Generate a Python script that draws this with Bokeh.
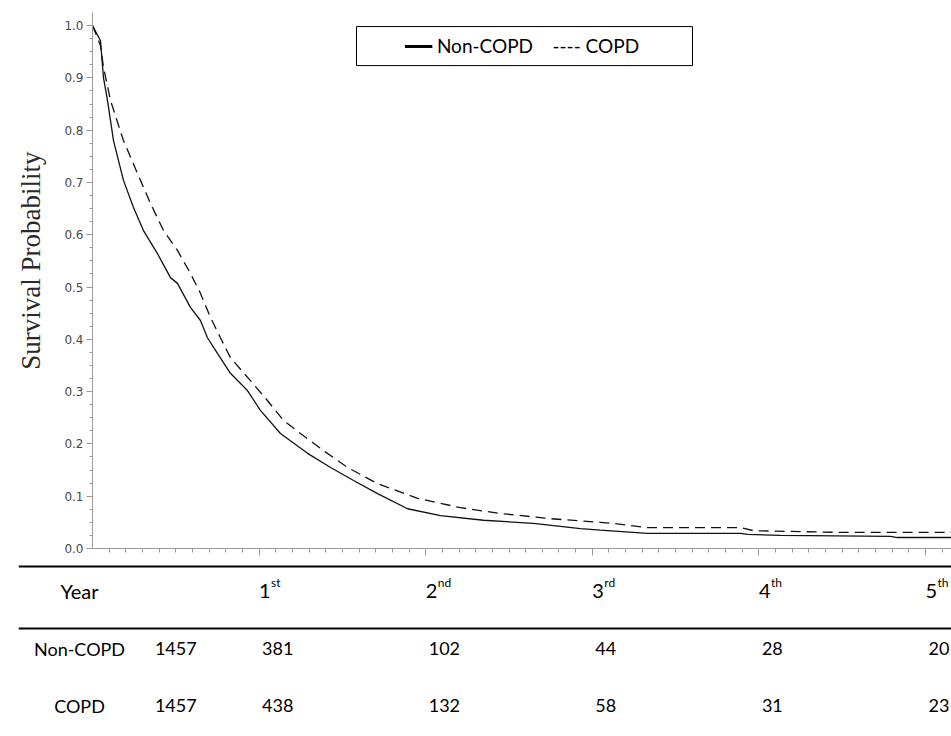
import math
from bokeh.plotting import figure
from bokeh.models import (Range1d, BoxAnnotation, Legend, LegendItem, Span,
                          FixedTicker, ColumnDataSource, NumeralTickFormatter)
from bokeh.layouts import column, row
from bokeh.embed import file_html
from bokeh.resources import INLINE
from bokeh.core.properties import value

# ---------------- data (time in years, survival probability) ----------------
non_copd_t = [0.0, 0.048, 0.066, 0.090, 0.126, 0.186, 0.246, 0.306, 0.390, 0.468,
              0.510, 0.588, 0.648, 0.690, 0.750, 0.828, 0.930, 1.008, 1.128, 1.291,
              1.429, 1.567, 1.711, 1.891, 2.089, 2.347, 2.647, 2.929, 3.049, 3.331,
              3.890, 3.932, 4.130, 4.790, 4.832, 5.156]
non_copd_s = [1.0, 0.971, 0.900, 0.857, 0.780, 0.704, 0.652, 0.608, 0.564, 0.518,
              0.507, 0.461, 0.436, 0.403, 0.373, 0.335, 0.302, 0.264, 0.220, 0.182,
              0.155, 0.130, 0.105, 0.076, 0.063, 0.054, 0.048, 0.038, 0.035, 0.029,
              0.029, 0.027, 0.025, 0.023, 0.021, 0.021]
copd_t = [0.0, 0.048, 0.066, 0.108, 0.186, 0.270, 0.348, 0.426, 0.510, 0.588,
          0.648, 0.666, 0.708, 0.768, 0.828, 0.948, 1.050, 1.146, 1.248, 1.387,
          1.531, 1.711, 1.951, 2.209, 2.449, 2.749, 3.049, 3.127, 3.331, 3.890,
          3.968, 4.448, 5.156]
copd_s = [1.0, 0.962, 0.920, 0.857, 0.780, 0.717, 0.660, 0.608, 0.570, 0.526,
          0.488, 0.474, 0.442, 0.403, 0.365, 0.321, 0.283, 0.245, 0.220, 0.187,
          0.155, 0.124, 0.096, 0.078, 0.067, 0.057, 0.050, 0.048, 0.040, 0.040,
          0.034, 0.031, 0.031]

y_ticks = [0.0, 0.1, 0.2, 0.3, 0.4, 0.5, 0.6, 0.7, 0.8, 0.9, 1.0]
year_ticks = [1, 2, 3, 4, 5]
year_numbers = ["1", "2", "3", "4", "5"]
year_suffixes = ["st", "nd", "rd", "th", "th"]
row_names = ["Non-COPD", "COPD"]
risk_years = [0, 1, 2, 3, 4, 5]
non_copd_risk = [1457, 381, 102, 44, 28, 20]
copd_risk = [1457, 438, 132, 58, 31, 23]

X_END = 5.156
PX_PER_YEAR = 166.6
PX_PER_UNIT = 523.0
LABEL_W = 55

# ---------------- survival chart ----------------
p = figure(width=951 - LABEL_W, height=560, x_range=Range1d(0, X_END), y_range=Range1d(0, 1.025),
           output_backend="svg", toolbar_location=None, frame_align=False,
           min_border_left=92 - LABEL_W, min_border_right=0, min_border_top=12, min_border_bottom=12)
p.outline_line_color = None
p.grid.visible = False

p.xaxis.ticker = FixedTicker(ticks=year_ticks, minor_ticks=[i / 10 for i in range(1, 52)])
p.xaxis.major_label_text_alpha = 0
p.xaxis.major_label_text_font_size = "2px"
p.xaxis.major_label_standoff = 0
for ax in (p.xaxis, p.yaxis):
    ax.axis_line_color = "#9a9a9a"
    ax.major_tick_line_color = "#9a9a9a"
    ax.minor_tick_line_color = "#9a9a9a"
    ax.major_tick_in = 0
    ax.minor_tick_in = 0
p.xaxis.major_tick_out = 7
p.xaxis.minor_tick_out = 4

p.yaxis.ticker = FixedTicker(ticks=y_ticks, minor_ticks=[i / 40 for i in range(0, 41)])
p.yaxis.formatter = NumeralTickFormatter(format="0.0")
p.yaxis.major_tick_out = 6
p.yaxis.minor_tick_out = 3
p.yaxis.major_label_standoff = 3
p.yaxis.major_label_text_font = "DejaVu Sans"
p.yaxis.major_label_text_font_size = "12px"
p.yaxis.major_label_text_color = "#4a4a4a"

p.line(non_copd_t, non_copd_s, line_color="#111111", line_width=1.3)
p.line(copd_t, copd_s, line_color="#111111", line_width=1.3, line_dash="10 6")

# legend
sample = p.line(x=[float("nan")], y=[float("nan")], line_color="black", line_width=3)
legend = Legend(items=[LegendItem(label="Non-COPD\u00a0\u00a0\u00a0\u00a0---- COPD", renderers=[sample])],
                location="top_center", orientation="horizontal",
                border_line_color=None, background_fill_alpha=0,
                label_text_font="Lato", label_text_font_size="19px", label_text_color="black",
                glyph_width=28, glyph_height=20, label_standoff=5, label_height=20,
                padding=0, margin=22)
p.add_layout(legend)
p.add_layout(BoxAnnotation(left=(356 - 92) / PX_PER_YEAR, right=(692 - 92) / PX_PER_YEAR,
                           top=(548 - 26) / PX_PER_UNIT, bottom=(548 - 65) / PX_PER_UNIT,
                           fill_alpha=0, line_color="black", line_alpha=1, line_width=1))

# ---------------- y-axis title panel ----------------
lab = figure(width=LABEL_W, height=560, x_range=Range1d(0, LABEL_W), y_range=p.y_range,
             output_backend="svg", toolbar_location=None, frame_align=False,
             x_axis_location=None, y_axis_location=None,
             min_border_left=0, min_border_right=0, min_border_top=12, min_border_bottom=12)
lab.outline_line_color = None
lab.grid.visible = False
lab.text(x=[30], y=[(548 - 260) / PX_PER_UNIT], text=["Survival Probability"], angle=math.pi / 2,
         text_align="center", text_baseline="middle", text_font=value("Liberation Serif"),
         text_font_size="27px", text_color="#2a2a2a")

# ---------------- number-at-risk table ----------------
q = figure(width=951, height=176, x_range=Range1d(-(92 - 18) / PX_PER_YEAR, X_END),
           y_range=Range1d(176, 0), output_backend="svg", toolbar_location=None,
           x_axis_location=None, y_axis_location=None, frame_align=False,
           min_border_left=18, min_border_right=0, min_border_top=0, min_border_bottom=0)
q.outline_line_color = None
q.grid.visible = False

q.add_layout(Span(location=6, dimension="width", line_color="black", line_width=2))
q.add_layout(Span(location=68, dimension="width", line_color="black", line_width=2))

LABEL_COL = -0.078
font = value("Lato")

q.text(x=[LABEL_COL], y=[30], text=["Year"], text_align="center", text_baseline="alphabetic",
       text_font=font, text_font_size="20px", text_color="black")
q.text(x=year_ticks, y=[30] * 5, text=year_numbers, text_align="left",
       text_baseline="alphabetic", text_font=font, text_font_size="20px", text_color="black")
q.text(x=year_ticks, y=[22] * 5, text=year_suffixes, text_align="left", x_offset=12,
       text_baseline="alphabetic", text_font=font, text_font_size="12px", text_color="black")

row_y = [88, 145]
q.text(x=[LABEL_COL] * 2, y=row_y, text=row_names, text_align="center",
       text_baseline="alphabetic", text_font=font, text_font_size="18px", text_color="black")
for vals, yy in ((non_copd_risk, row_y[0]), (copd_risk, row_y[1])):
    src = ColumnDataSource(dict(x=risk_years[1:], y=[yy] * 5, t=[str(v) for v in vals[1:]]))
    q.text(x="x", y="y", text="t", source=src, text_align="left", x_offset=3,
           text_baseline="alphabetic", text_font=font, text_font_size="18px", text_color="black")
    q.text(x=[risk_years[0] + 0.5], y=[yy], text=[str(vals[0])], text_align="center",
           text_baseline="alphabetic", text_font=font, text_font_size="18px", text_color="black")

layout = column(row(lab, p, spacing=0), q, spacing=0)
open("out.html", "w").write(file_html(layout, INLINE))
